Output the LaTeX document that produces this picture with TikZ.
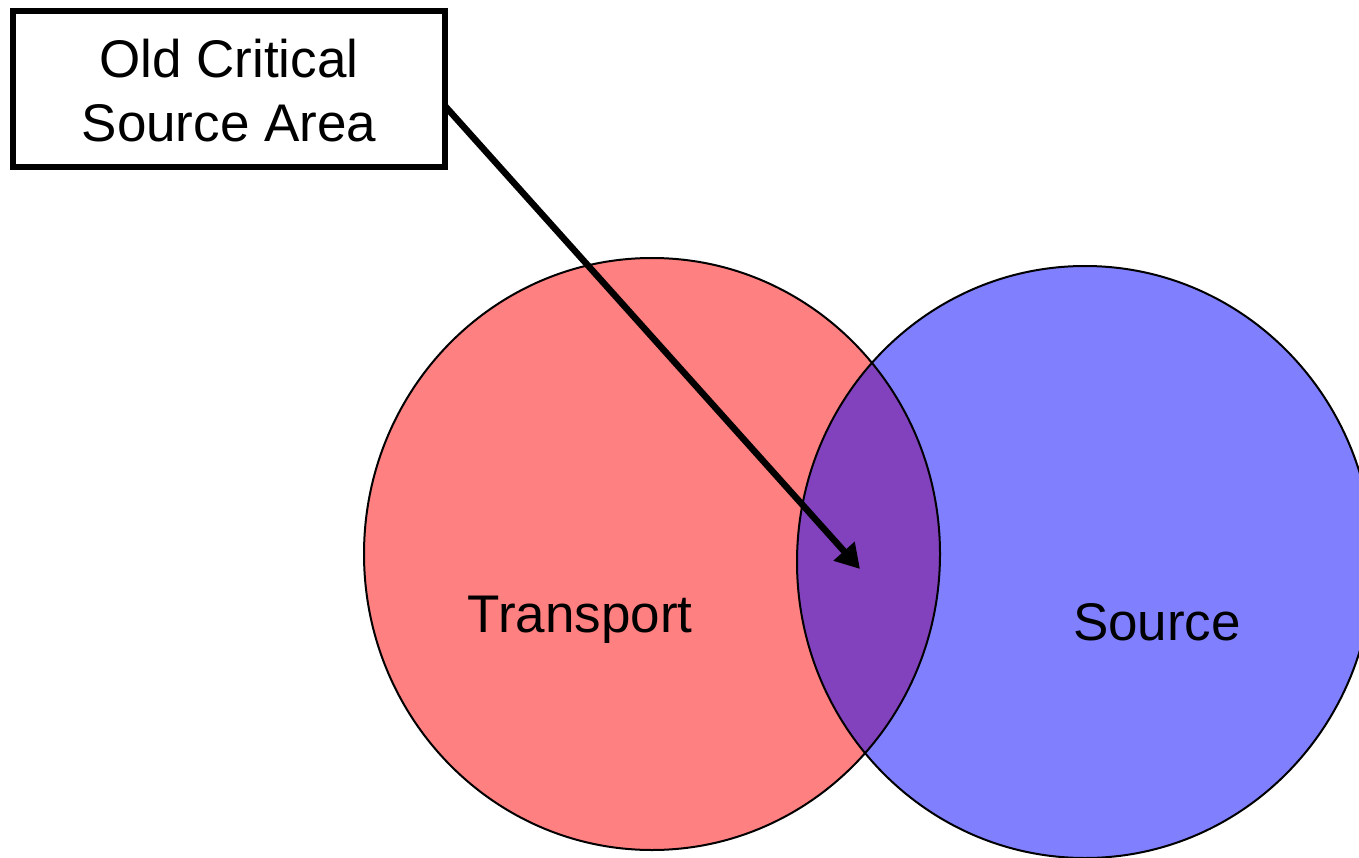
\documentclass[tikz,border=0pt]{standalone}
\usepackage{fontspec}
\setmainfont{Liberation Sans}
\usetikzlibrary{arrows.meta}
\definecolor{redfill}{RGB}{255,128,128}
\definecolor{bluefill}{RGB}{128,128,255}
\definecolor{purplefill}{RGB}{130,66,190}
\begin{document}
\begin{tikzpicture}[x=1pt,y=-1pt,
  lbl/.style={font=\fontsize{53}{64}\selectfont, inner sep=0pt},
  outline/.style={draw=black, line width=2pt},
  callout/.style={draw=black, line width=6pt, fill=white, minimum width=432pt, minimum height=156pt, align=center, lbl},
  pointer/.style={line width=6.5pt, -{Triangle[length=24pt,width=27pt]}}]
\useasboundingbox (0,0) rectangle (1359,858);
% circles
\fill[redfill] (652,554) ellipse [x radius=288pt, y radius=296pt];
\fill[bluefill] (1085,562) ellipse [x radius=288pt, y radius=296pt];
\begin{scope}
  \clip (652,554) ellipse [x radius=288pt, y radius=296pt];
  \fill[purplefill] (1085,562) ellipse [x radius=288pt, y radius=296pt];
\end{scope}
\draw[outline] (652,554) ellipse [x radius=288pt, y radius=296pt];
\draw[outline] (1085,562) ellipse [x radius=288pt, y radius=296pt];
% labels
\node[lbl, anchor=base] (transport) at (580,632) {Transport};
\node[lbl, anchor=base] (source) at (1157,640) {Source};
% callout
\node[callout] (box) at (229,89) {};
\node[lbl, align=center] (boxtext) at (229,91) {Old Critical\\Source Area};
\coordinate (start) at (445,106);
\coordinate (tip) at (860,569);
\draw[pointer] (start) -- (tip);
\end{tikzpicture}
\end{document}
